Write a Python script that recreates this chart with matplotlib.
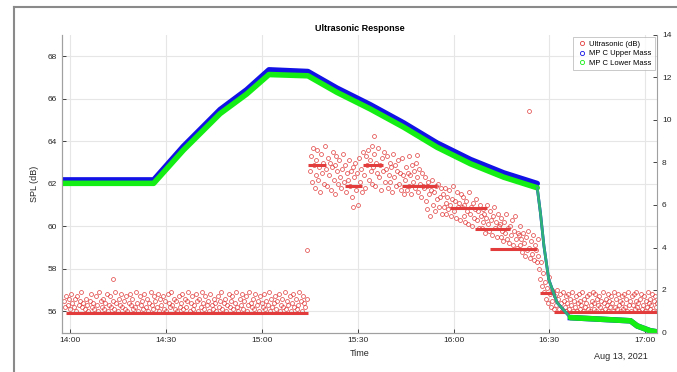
import numpy as np
import matplotlib.pyplot as plt
from matplotlib.lines import Line2D

plt.rcParams['font.family'] = ['Liberation Sans', 'DejaVu Sans']

# time axis in minutes after 14:00
tick_min = [0, 30, 60, 90, 120, 150, 180]
tick_lbl = ['14:00', '14:30', '15:00', '15:30', '16:00', '16:30', '17:00']

# ultrasonic SPL (dB), 14:00 - 15:14
spl_a = [56.5, 56.2, 56.7, 56.3, 56.6, 56.1, 56.8, 56.4, 56.2, 56.6, 56.0, 56.7, 56.3, 56.5, 56.9, 56.2, 56.4, 56.1, 56.6, 56.3,
         56.0, 56.5, 56.8, 56.2, 56.4, 56.1, 56.7, 56.3, 56.0, 56.9, 56.5, 56.2, 56.6, 56.1, 56.4, 56.8, 56.0, 56.3, 56.7, 56.2,
         56.5, 56.1, 56.9, 56.4, 56.0, 56.6, 56.3, 56.8, 56.2, 56.5, 56.1, 56.7, 56.0, 56.4, 56.8, 56.3, 56.6, 56.1, 56.2, 56.9,
         56.4, 56.0, 56.7, 56.3, 56.5, 56.1, 56.8, 56.2, 56.6, 56.0, 56.4, 56.9, 56.3, 56.1, 56.7, 56.5, 56.2, 56.8, 56.0, 56.6,
         56.3, 56.7, 56.1, 56.5, 56.0, 56.8, 56.4, 56.2, 56.9, 56.3, 56.6, 56.1, 56.5, 56.0, 56.7, 56.2, 56.4, 56.8, 56.1, 56.6,
         56.2, 56.5, 56.9, 56.0, 56.4, 56.7, 56.1, 56.3, 56.8, 56.5, 56.0, 56.6, 56.2, 56.9, 56.4, 56.1, 56.7, 56.3, 56.5, 56.0,
         56.8, 56.3, 56.1, 56.6, 56.4, 56.0, 56.7, 56.2, 56.5, 56.9, 56.1, 56.4, 56.6, 56.0, 56.3, 56.8, 56.2, 56.5, 56.7, 56.1,
         56.4, 56.9, 56.2, 56.0, 56.6, 56.3, 56.8, 56.1, 56.5, 56.7, 56.0, 56.3, 56.9, 56.4, 56.2, 56.6, 56.1, 56.8, 56.3, 56.5,
         56.0, 56.7, 56.4, 56.2, 56.8, 56.1, 56.5, 56.3, 56.9, 56.0, 56.6, 56.2, 56.4, 56.7, 56.1, 56.5, 56.8, 56.0, 56.3, 56.6,
         56.2, 56.9, 56.1, 56.5, 56.3, 56.7, 56.0, 56.4, 56.8, 56.2, 56.6, 56.1, 56.3, 56.9, 56.5, 56.0, 56.7, 56.4, 56.2, 56.6]

# 15:15 - 16:26
spl_b = [62.6, 63.3, 62.1, 63.7, 62.9, 61.8, 63.1, 62.4, 63.6, 62.2, 62.8, 61.6, 63.4, 62.5, 63.0, 62.0, 63.8, 62.7, 61.9, 63.2,
         62.4, 63.0, 61.7, 62.8, 63.5, 62.2, 62.9, 61.5, 63.3, 62.6, 62.0, 63.1, 62.3, 61.8, 62.7, 63.4, 62.1, 62.9, 61.6, 62.5,
         62.2, 63.1, 61.9, 62.6, 61.4, 62.8, 60.9, 62.3, 63.0, 61.7, 62.5, 61.0, 63.2, 62.1, 62.7, 61.6, 63.5, 62.4, 61.8, 63.3,
         62.9, 63.6, 62.2, 63.1, 62.6, 63.8, 62.0, 62.8, 63.4, 61.9, 63.0, 62.5, 63.7, 62.3, 62.9, 61.7, 63.2, 62.6, 63.5, 62.1,
         62.7, 63.3, 61.8, 62.4, 63.0, 62.1, 62.8, 61.6, 63.4, 62.3, 62.9, 61.9, 62.6, 63.1, 62.0, 62.5, 61.7, 63.2, 62.4, 61.5,
         62.2, 62.8, 61.7, 62.5, 63.3, 61.9, 62.4, 61.5, 62.9, 62.1, 62.6, 61.8, 63.0, 62.3, 61.6, 62.7, 62.0, 61.4, 62.5, 61.9,
         61.8, 62.3, 61.2, 61.9, 60.8, 62.1, 61.5, 60.5, 61.7, 62.2, 61.0, 61.6, 60.7, 61.9, 61.3, 62.0, 60.9, 61.4, 61.8, 60.6,
         61.5, 60.9, 61.8, 61.1, 60.6, 61.4, 60.8, 61.7, 61.0, 60.5, 61.3, 61.9, 60.7, 61.2, 60.4, 61.6, 60.9, 61.1, 60.3, 61.5,
         60.9, 61.4, 60.5, 61.0, 60.2, 61.2, 60.7, 60.1, 61.6, 60.6, 60.9, 60.0, 61.1, 60.4, 60.8, 61.3, 60.3, 60.7, 59.9, 61.0,
         60.5, 59.9, 60.8, 60.2, 60.6, 59.7, 60.4, 61.0, 60.1, 59.8, 60.7, 60.3, 59.6, 60.5, 60.9, 59.9, 60.2, 59.5, 60.6, 60.0,
         60.1, 59.5, 60.4, 59.8, 59.3, 60.2, 59.7, 60.6, 59.4, 59.9, 59.2, 60.0, 59.6, 60.3, 59.1, 59.8, 60.5, 59.4, 59.0, 59.7,
         59.6, 59.1, 60.0, 59.4, 58.8, 59.7, 59.2, 58.6, 59.5, 58.9, 59.8, 59.0, 58.5, 59.3, 58.7, 59.6, 58.4, 59.1, 58.9, 58.3]

# 16:26 - 17:04
spl_c = [58.6, 59.4, 58.0, 57.5, 58.3, 57.2, 57.8, 56.9, 57.4, 56.6, 57.1, 56.4, 57.6, 56.8, 56.2, 57.0, 56.5, 56.9, 56.1, 56.7,
         56.3, 57.0, 56.6, 56.1, 56.8, 56.4, 56.0, 56.9, 56.5, 56.2, 56.7, 56.0, 56.4, 56.8, 56.1, 56.6, 56.3, 56.9, 56.0, 56.5,
         56.2, 56.7, 56.0, 56.4, 56.8, 56.1, 56.5, 56.3, 56.9, 56.0, 56.6, 56.2, 56.4, 56.7, 56.1, 56.8, 56.0, 56.3, 56.5, 56.9,
         56.1, 56.4, 56.8, 56.0, 56.6, 56.3, 56.7, 56.2, 56.5, 56.0, 56.9, 56.4, 56.1, 56.6, 56.3, 56.8, 56.0, 56.5, 56.2, 56.7,
         56.4, 56.0, 56.9, 56.2, 56.6, 56.1, 56.8, 56.3, 56.5, 56.0, 56.7, 56.4, 56.1, 56.8, 56.2, 56.6, 56.0, 56.9, 56.3, 56.5,
         56.0, 56.7, 56.3, 56.8, 56.1, 56.5, 56.9, 56.2, 56.4, 56.0, 56.6, 56.8, 56.1, 56.3, 56.7, 56.0, 56.5, 56.2, 56.9, 56.4,
         56.1, 56.6, 56.3, 56.8, 56.0, 56.5, 56.7, 56.2, 56.4, 56.0]

# odd single readings
odd_t = [13.5, 74.2, 95.0, 108.6, 143.6]
odd_v = [57.5, 58.87, 64.24, 63.33, 65.4]

# flat runs of repeated readings: start, end, level
run_t0 = [-1.5, 74.5, 86.0, 91.7, 104.0, 119.0, 126.8, 131.4, 147.0, 151.5]
run_t1 = [74.5, 80.0, 91.3, 98.0, 114.8, 130.5, 137.7, 146.0, 151.8, 184.0]
run_v = [55.93, 62.9, 61.88, 62.9, 61.88, 60.87, 59.88, 58.94, 56.87, 55.95]

# MP C mass curves (right axis)
mp_t = [-2.6, 26.1, 35.4, 46.9, 55.2, 62.2, 74.4, 83.5, 93.9, 104.4, 114.8, 125.3, 135.7, 146.2]
upper_v = [7.18, 7.18, 8.76, 10.49, 11.42, 12.36, 12.28, 11.50, 10.72, 9.86, 8.92, 8.14, 7.51, 7.01]
lower_v = [7.02, 7.02, 8.58, 10.30, 11.22, 12.14, 12.08, 11.30, 10.52, 9.66, 8.72, 7.94, 7.31, 6.81]
drop_t = [146.2, 147.2, 148.3, 149.8, 152.4, 156.6]
drop_v = [6.81, 5.63, 4.07, 2.50, 1.41, 0.70]
tail_t = [156.6, 175.4, 177.5, 181.6, 183.7]
tail_v = [0.70, 0.55, 0.31, 0.08, 0.03]

red = '#e23c3c'
blue = '#1212e6'
green = '#14ee14'

fig = plt.figure(figsize=(6.77, 3.72), dpi=100)
ax = fig.add_axes([62/677, 1-332.5/372, 595/677, 297.5/372])

for vals, t0, t1 in [(spl_a, -2.0, 74.0), (spl_b, 75.0, 146.0), (spl_c, 146.3, 184.0)]:
    tt = np.linspace(t0, t1, len(vals))
    ax.plot(tt, vals, 'o', ms=2.8, mfc='none', mec=red, mew=0.5)
ax.plot(odd_t, odd_v, 'o', ms=2.8, mfc='none', mec=red, mew=0.5)
for a, b, v in zip(run_t0, run_t1, run_v):
    ax.plot([a, b], [v, v], '-', color=red, lw=2.2, solid_capstyle='butt')

ax.set_xlim(-2.6, 183.7)
ax.set_ylim(55, 69)
ax.set_yticks(np.arange(56, 69, 2))
ax.set_xticks(tick_min)
ax.set_xticklabels(tick_lbl)
ax.grid(True, color='#e6e6e6', lw=0.8)
ax.set_axisbelow(True)
ax.set_ylabel('SPL (dB)', fontsize=6.5, color='#262626', labelpad=6)
ax.set_xlabel('Time', fontsize=6.5, color='#262626', labelpad=3)
ax.set_title('Ultrasonic Response', fontsize=6.5, fontweight='bold', pad=3)
ax.text(0.985, -0.065, 'Aug 13, 2021', transform=ax.transAxes, ha='right', va='top',
        fontsize=6.5, color='#262626')

ax2 = ax.twinx()
ax2.plot(mp_t, upper_v, '-', color=blue, lw=4, solid_capstyle='round')
ax2.plot(drop_t, drop_v, '-', color=blue, lw=2)
ax2.plot(tail_t, tail_v, '-', color=blue, lw=4)
ax2.plot(mp_t, lower_v, '-', color=green, lw=4, solid_capstyle='round')
ax2.plot(drop_t, drop_v, '-', color='#2fb07a', lw=2)
ax2.plot(tail_t, tail_v, '-', color=green, lw=4, solid_capstyle='round')
ax2.set_ylim(0, 14)
ax2.set_yticks(np.arange(0, 15, 2))

for a in (ax, ax2):
    a.tick_params(direction='in', labelsize=6, colors='#262626', length=3, width=0.6)
    for s in a.spines.values():
        s.set_color('#a0a0a0')
        s.set_linewidth(0.8)
    a.spines['top'].set_visible(False)
ax.spines['right'].set_visible(False)

handles = [Line2D([], [], ls='none', marker='o', ms=3, mfc='none', mec=c, mew=0.6)
           for c in (red, blue, green)]
leg = ax2.legend(handles, ['Ultrasonic (dB)', 'MP C Upper Mass', 'MP C Lower Mass'],
                 loc='upper right', fontsize=5.5, frameon=True, fancybox=False,
                 borderaxespad=0.3, handletextpad=0.2, handlelength=1.5,
                 borderpad=0.4, labelspacing=0.3)
leg.get_frame().set_edgecolor('#b0b0b0')
leg.get_frame().set_linewidth(0.6)

# window frame
fig.add_artist(Line2D([14/677, 14/677], [0, 1-7/372], color='#8a8a8a', lw=1.5))
fig.add_artist(Line2D([14/677, 1], [1-7/372, 1-7/372], color='#8a8a8a', lw=1.5))

fig.savefig('out.png', dpi=100)
